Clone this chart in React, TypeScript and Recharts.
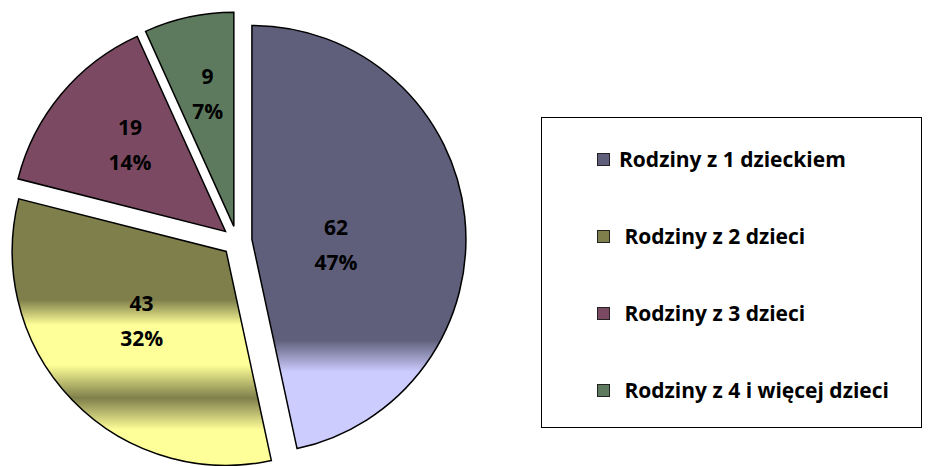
import { PieChart, Pie, Cell, Legend, Sector } from 'recharts';

const categories = [
  "Rodziny z 1 dzieckiem",
  " Rodziny z 2 dzieci",
  " Rodziny z 3 dzieci",
  " Rodziny z 4 i więcej dzieci",
];
const families = [62, 43, 19, 9];

const BASE_COLORS = ["#5f5f7b", "#7f7f4b", "#7b4a62", "#5e7a5e"];
const FONT = "'Open Sans', Lato, sans-serif";
const RADIAN = Math.PI / 180;
const EXPLODE = 15;
// label placement (Excel best fit): share of radius, then a small nudge
const LABEL_POS = [0.395, 0.53, 0.6, 0.625];
const LABEL_NUDGE = [[0, 15], [-3, -9], [3, -4], [2, -2]];

const chartData = categories.map((name, i) => ({ name, value: families[i] }));

const offset = (midAngle: number) => ({
  dx: EXPLODE * Math.cos(-midAngle * RADIAN),
  dy: EXPLODE * Math.sin(-midAngle * RADIAN),
});

const ExplodedSector = (props: any) => {
  const { dx, dy } = offset(props.midAngle);
  return <Sector {...props} cx={props.cx + dx} cy={props.cy + dy} />;
};

const renderLabel = (props: any) => {
  const { cx, cy, midAngle, outerRadius, percent, value, index } = props;
  const { dx, dy } = offset(midAngle);
  const r = outerRadius * LABEL_POS[index];
  const x = cx + dx + r * Math.cos(-midAngle * RADIAN) + LABEL_NUDGE[index][0];
  const y = cy + dy + r * Math.sin(-midAngle * RADIAN) + LABEL_NUDGE[index][1];
  return (
    <text x={x} y={y} textAnchor="middle" fill="#000" fontFamily={FONT} fontWeight="bold" fontSize={21}>
      <tspan x={x} dy={-10}>{value}</tspan>
      <tspan x={x} dy={35}>{Math.round(percent * 100)}%</tspan>
    </text>
  );
};

const LegendBox = () => (
  <div
    style={{
      width: 381,
      height: 311,
      border: '1.5px solid #000',
      background: '#fff',
      display: 'flex',
      flexDirection: 'column',
      justifyContent: 'space-between',
      padding: '29px 0 25px 0',
      boxSizing: 'border-box',
      fontFamily: FONT,
      fontWeight: 'bold',
      fontSize: 21,
    }}
  >
    {categories.map((name, index) => (
      <div key={`leg-${index}`} style={{ display: 'flex', alignItems: 'center', height: 24, paddingLeft: 55 }}>
        <span
          style={{
            display: 'inline-block',
            width: 11,
            height: 11,
            background: BASE_COLORS[index],
            border: '1px solid #222',
            marginRight: 9,
          }}
        />
        <span style={{ whiteSpace: 'pre', color: '#000' }}>{name}</span>
      </div>
    ))}
  </div>
);

export default function App() {
  return (
    <div style={{ position: 'absolute', left: 0, top: 0, width: 936, height: 466, background: '#fff' }}>
      <PieChart width={936} height={466} margin={{ top: 0, right: 0, bottom: 0, left: 0 }}>
        <defs>
          <linearGradient id="g0" gradientUnits="userSpaceOnUse" x1="0" y1="0" x2="0" y2="466">
            <stop offset={340 / 466} stopColor="#5f5f7b" />
            <stop offset={372 / 466} stopColor="#ccccff" />
            <stop offset={1} stopColor="#ccccff" />
          </linearGradient>
          <linearGradient id="g1" gradientUnits="userSpaceOnUse" x1="0" y1="0" x2="0" y2="466">
            <stop offset={300 / 466} stopColor="#7f7f4b" />
            <stop offset={325 / 466} stopColor="#ffff99" />
            <stop offset={365 / 466} stopColor="#ffff99" />
            <stop offset={398 / 466} stopColor="#7f7f4b" />
            <stop offset={430 / 466} stopColor="#ffff99" />
            <stop offset={1} stopColor="#ffff99" />
          </linearGradient>
        </defs>
        <Pie
          data={chartData}
          dataKey="value"
          nameKey="name"
          cx={237}
          cy={241}
          outerRadius={214}
          startAngle={90}
          endAngle={-270}
          stroke="#000"
          strokeWidth={1.5}
          label={renderLabel}
          labelLine={false}
          shape={ExplodedSector}
          isAnimationActive={false}
        >
          {chartData.map((entry, index) => (
            <Cell key={`cell-${index}`} fill={index < 2 ? `url(#g${index})` : BASE_COLORS[index]} />
          ))}
        </Pie>
        <Legend
          content={<LegendBox />}
          wrapperStyle={{ position: 'absolute', left: 541, top: 117, width: 381, height: 311 }}
        />
      </PieChart>
    </div>
  );
}
